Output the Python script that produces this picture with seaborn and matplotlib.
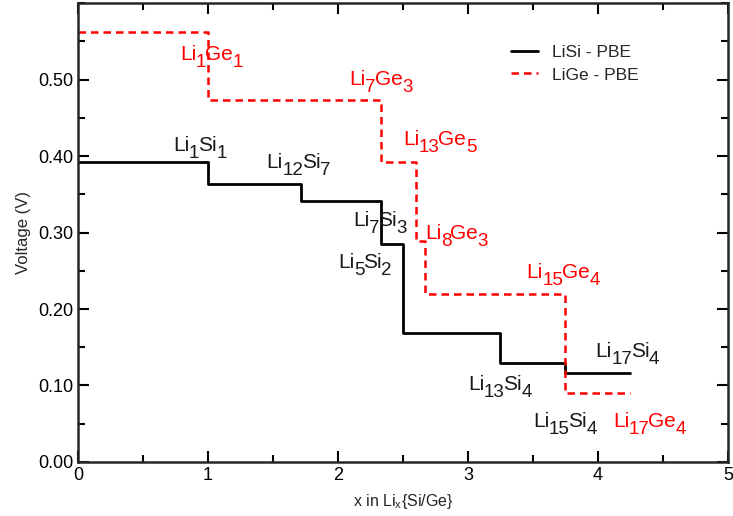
import numpy as np
import pandas as pd
import seaborn as sns
import matplotlib.pyplot as plt
from matplotlib.ticker import MultipleLocator, FormatStrFormatter

# step voltages (x in Li_x{Si/Ge}, voltage in V)
si_x = [0, 1, 12 / 7, 7 / 3, 5 / 2, 13 / 4, 15 / 4, 17 / 4]
si_v = [0.392, 0.363, 0.341, 0.285, 0.169, 0.129, 0.116, 0.116]
ge_x = [0, 1, 7 / 3, 13 / 5, 8 / 3, 15 / 4, 17 / 4]
ge_v = [0.562, 0.473, 0.392, 0.289, 0.219, 0.090, 0.090]

# phase labels: pieces alternate main text / subscript, position = left edge, baseline
si_labels = [['Li', '1', 'Si', '1'], ['Li', '12', 'Si', '7'], ['Li', '7', 'Si', '3'],
             ['Li', '5', 'Si', '2'], ['Li', '13', 'Si', '4'], ['Li', '17', 'Si', '4'],
             ['Li', '15', 'Si', '4']]
si_pos = [(0.73, 0.406), (1.45, 0.384), (2.115, 0.309), (2.0, 0.254),
          (3.0, 0.094), (3.98, 0.137), (3.5, 0.046)]
ge_labels = [['Li', '1', 'Ge', '1'], ['Li', '7', 'Ge', '3'], ['Li', '13', 'Ge', '5'],
             ['Li', '8', 'Ge', '3'], ['Li', '15', 'Ge', '4'], ['Li', '17', 'Ge', '4']]
ge_pos = [(0.785, 0.526), (2.09, 0.493), (2.50, 0.414), (2.67, 0.292),
          (3.45, 0.241), (4.115, 0.046)]

sns.set_style('ticks')
plt.rcParams['font.family'] = ['Liberation Sans', 'DejaVu Sans']
plt.rcParams['mathtext.default'] = 'regular'

fig = plt.figure(figsize=(7.33, 5.16), dpi=100)
ax = fig.add_axes([0.1064, 0.1047, 0.8866, 0.8893])

sns.lineplot(x=si_x, y=si_v, drawstyle='steps-post', color='black', lw=2,
             label='LiSi - PBE', ax=ax)
sns.lineplot(x=ge_x, y=ge_v, drawstyle='steps-post', color='red', lw=1.8,
             linestyle=(0, (3, 2)), label='LiGe - PBE', ax=ax)


def formula(x, y, parts, color):
    # chain text pieces so subscripts can be larger than mathtext allows
    main = ax.text(x, y, parts[0], fontsize=15, color=color, va='baseline', ha='left')
    prev = main
    for i, p in enumerate(parts[1:], 1):
        if i % 2 == 1:
            prev = ax.annotate(p, xy=(1, 0), xycoords=prev, xytext=(-0.3, -5),
                               textcoords='offset points', fontsize=13.5, color=color,
                               va='bottom', ha='left')
        else:
            main = ax.annotate(p, xy=(1, 0), xycoords=(prev, main), xytext=(-0.8, 0),
                               textcoords='offset points', fontsize=15, color=color,
                               va='bottom', ha='left')
            prev = main


for parts, (x, y) in zip(si_labels, si_pos):
    formula(x, y, parts, '#1a1a1a')
for parts, (x, y) in zip(ge_labels, ge_pos):
    formula(x, y, parts, 'red')

ax.set_xlim(0, 5)
ax.set_ylim(0, 0.6)
ax.xaxis.set_major_locator(MultipleLocator(1))
ax.xaxis.set_minor_locator(MultipleLocator(0.5))
ax.yaxis.set_minor_locator(MultipleLocator(0.05))
ax.set_yticks([0, 0.1, 0.2, 0.3, 0.4, 0.5])
ax.yaxis.set_major_formatter(FormatStrFormatter('%.2f'))
ax.tick_params(which='both', direction='in', top=True, right=True, width=1.5,
               labelsize=13, colors='black')
ax.tick_params(which='major', length=8)
ax.tick_params(which='minor', length=5)
for sp in ax.spines.values():
    sp.set_linewidth(1.8)
    sp.set_visible(True)

ax.set_xlabel(r'x in Li$_x${Si/Ge}', fontsize=11.5, labelpad=6)
ax.set_ylabel('Voltage (V)', fontsize=12, labelpad=5)

ax.legend(loc='upper left', bbox_to_anchor=(0.655, 0.925), borderaxespad=0,
          frameon=False, fontsize=12.5, handlelength=1.6, labelspacing=0.45)

fig.savefig('out.png', dpi=100)
